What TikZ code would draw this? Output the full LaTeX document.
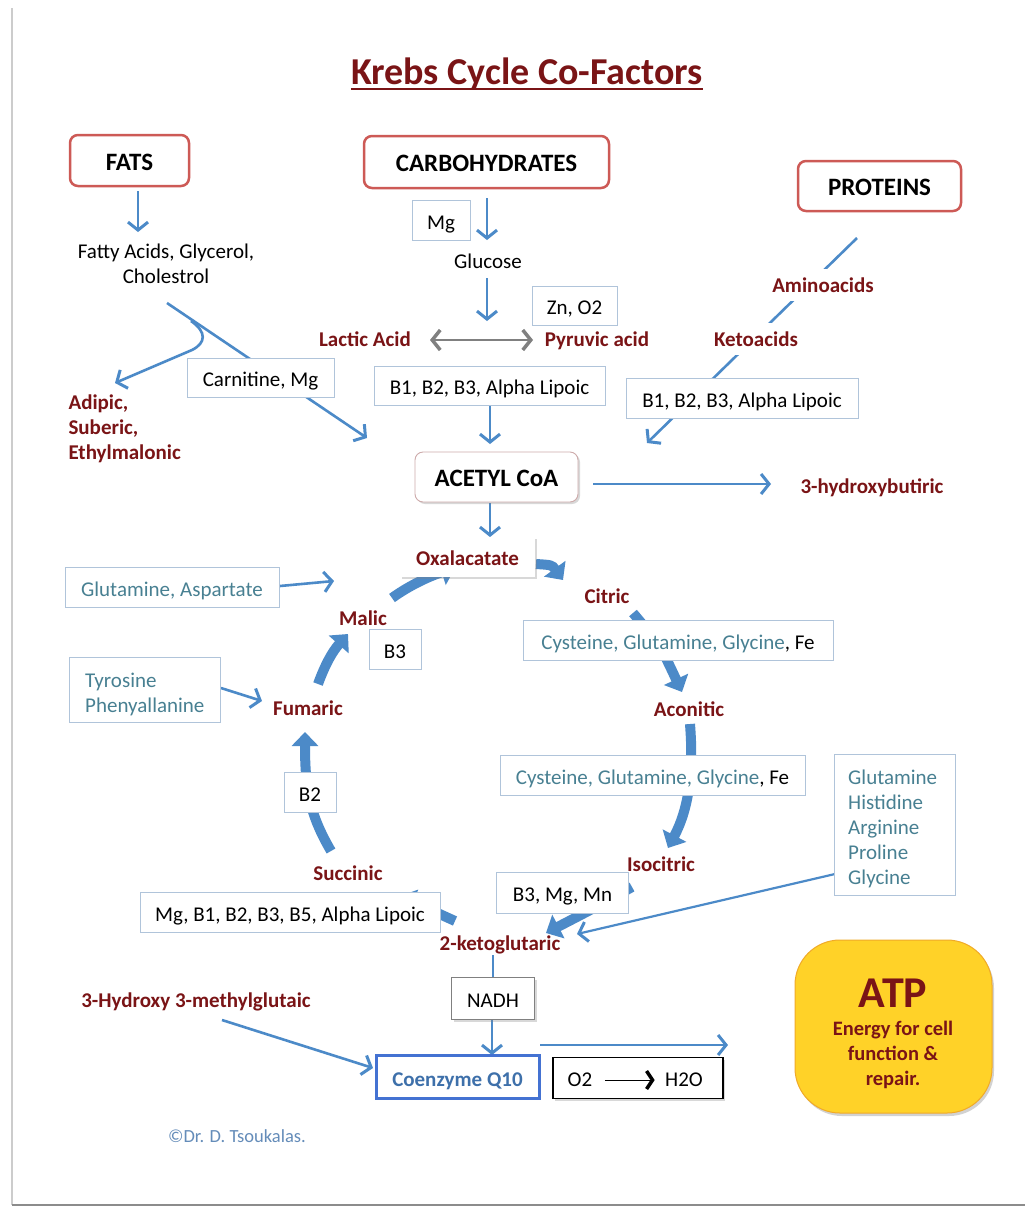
\documentclass[tikz,border=0pt]{standalone}
\usepackage{fontspec}
\setmainfont{Carlito}
\usetikzlibrary{arrows.meta,shadows}
\pgfdeclarelayer{bg}
\pgfsetlayers{bg,main}
\definecolor{dred}{RGB}{122,20,22}
\definecolor{hdr}{RGB}{205,90,86}
\definecolor{ablue}{RGB}{76,138,200}
\definecolor{tealtx}{RGB}{72,128,146}
\definecolor{bbord}{RGB}{176,196,218}
\definecolor{atpy}{RGB}{255,210,40}
\definecolor{atpb}{RGB}{240,170,40}
\definecolor{cqblue}{RGB}{68,114,210}
\definecolor{cqtxt}{RGB}{62,112,170}
\definecolor{gline}{RGB}{128,128,128}
\definecolor{copyc}{RGB}{100,140,185}
\definecolor{acbord}{RGB}{205,170,170}
\tikzset{
  body/.style={font=\fontsize{21}{25}\selectfont},
  lbl/.style={font=\fontsize{21}{25}\selectfont\bfseries, text=dred},
  hdrbox/.style={draw=hdr, line width=2.5pt, rounded corners=8pt, fill=white, inner sep=0pt, font=\fontsize{25}{28}\selectfont\bfseries, text height=19pt, text depth=0pt},
  cbox/.style={draw=bbord, line width=0.9pt, fill=white, inner sep=0pt, font=\fontsize{21}{25}\selectfont, text height=18pt, text depth=0pt},
  plainbox/.style={draw=bbord, line width=0.9pt, fill=white, inner sep=0pt},
  shd/.style={drop shadow={opacity=0.3, shadow xshift=2pt, shadow yshift=-2pt}},
  arr/.style={draw=ablue, line width=2.6pt, -{Straight Barb[length=8pt,width=20pt,line width=3pt]}},
  thinarr/.style={draw=ablue, line width=2.2pt, -{Straight Barb[length=8pt,width=20pt,line width=3pt]}},
  bigarr/.style={draw=ablue, line width=10pt, -{Triangle[length=14pt,width=26pt]}},
}
\begin{document}
\begin{tikzpicture}[x=1pt,y=-1pt]
\useasboundingbox (0,0) rectangle (1025,1208);
% ---------- nodes ----------
\node[font=\fontsize{38}{42}\selectfont\bfseries, text=dred, anchor=base, inner sep=0pt] (title) at (527,84) {Krebs Cycle Co-Factors};
\coordinate (ul) at (0,89);
\draw[dred, line width=2pt] (title.west |- ul) -- (title.east |- ul);

\node[hdrbox, minimum width=119, minimum height=51] (fats) at (129.5,160.5) {FATS};
\node[hdrbox, minimum width=245, minimum height=52] (carb) at (486.5,162) {CARBOHYDRATES};
\node[hdrbox, minimum width=163, minimum height=50] (prot) at (879.5,186) {PROTEINS};

\node[body, align=center] (fatty) at (166,264) {Fatty Acids, Glycerol,\\Cholestrol};
\node[cbox, minimum width=58, minimum height=40] (mg) at (441,220) {Mg};
\node[body] (glucose) at (488,261) {Glucose};
\node[cbox, minimum width=85, minimum height=39] (zno) at (574.5,305.5) {Zn, O2};
\node[lbl] (lactic) at (365,339) {Lactic Acid};
\node[lbl] (pyruvic) at (597,341) {Pyruvic acid};
\node[cbox, minimum width=147, minimum height=39] (carn) at (260.5,377.5) {Carnitine, Mg};
\node[cbox, minimum width=231, minimum height=39] (bleft) at (489.5,385.5) {B1, B2, B3, Alpha Lipoic};
\node[lbl, align=left, anchor=west] (adipic) at (65,429) {Adipic,\\Suberic,\\Ethylmalonic};
\node[lbl, fill=white, inner ysep=9pt, inner xsep=3pt] (amino) at (823,285) {Aminoacids};
\node[lbl, fill=white, inner ysep=9pt, inner xsep=3pt] (keto) at (756,339) {Ketoacids};
\node[cbox, minimum width=232, minimum height=40] (bright) at (742,398) {B1, B2, B3, Alpha Lipoic};

\node[draw=acbord, line width=0.9pt, rounded corners=8pt, fill=white, minimum width=163, minimum height=50, inner sep=0pt, font=\fontsize{25}{28}\selectfont\bfseries, text height=19pt, text depth=0pt, shd] (acetyl) at (496.5,477) {ACETYL CoA};
\node[lbl] (hydroxy) at (872,488) {3-hydroxybutiric};
\node[lbl, fill=white, minimum width=135, minimum height=40, inner sep=0pt, text height=17pt, text depth=0pt, shd] (oxal) at (467.5,557) {Oxalacatate};

\node[lbl] (citric) at (607,596) {Citric};
\node[lbl] (aconitic) at (689,709) {Aconitic};
\node[lbl] (isocitric) at (661,864) {Isocitric};
\node[lbl] (ketog) at (500,945) {2-ketoglutaric};
\node[lbl] (succinic) at (348,873) {Succinic};
\node[lbl] (fumaric) at (308,708) {Fumaric};
\node[lbl] (malic) at (363,618) {Malic};

\node[cbox, text=tealtx, minimum width=214, minimum height=40] (glas) at (172,587) {Glutamine, Aspartate};
\node[plainbox, minimum width=151, minimum height=65] (tyro) at (144.5,689.5) {};
\node[body, text=tealtx, align=left, anchor=west, inner sep=0pt] (tyrotx) at (85,694) {Tyrosine\\Phenyallanine};
\node[cbox, minimum width=310, minimum height=40] (cys1) at (678,640) {\textcolor{tealtx}{Cysteine, Glutamine, Glycine}, Fe};
\node[cbox, minimum width=305, minimum height=40] (cys2) at (652.5,775) {\textcolor{tealtx}{Cysteine, Glutamine, Glycine}, Fe};
\node[plainbox, minimum width=121, minimum height=141] (glist) at (894.5,824.5) {};
\node[body, text=tealtx, align=left, anchor=west, inner sep=0pt] (glisttx) at (848,828.5) {Glutamine\\Histidine\\Arginine\\Proline\\Glycine};
\node[cbox, minimum width=52, minimum height=40] (b3) at (395,649) {B3};
\node[cbox, minimum width=52, minimum height=40] (b2) at (310,792) {B2};
\node[cbox, minimum width=132, minimum height=41] (bmm) at (562.5,892.5) {B3, Mg, Mn};
\node[cbox, minimum width=300, minimum height=40] (mgb) at (290,912) {Mg, B1, B2, B3, B5, Alpha Lipoic};

\node[lbl] (hmg) at (196,1002) {3-Hydroxy 3-methylglutaic};
\node[cbox, draw=gline, line width=1pt, minimum width=83, minimum height=42, shd] (nadh) at (493,998.5) {NADH};
\node[cbox, draw=cqblue, line width=3pt, minimum width=163, minimum height=43, font=\fontsize{21}{25}\selectfont\bfseries, text=cqtxt] (coq) at (457.5,1077) {Coenzyme Q10};
\node[draw=black, line width=1.5pt, fill=white, minimum width=170, minimum height=41, inner sep=0pt, shd] (o2box) at (638,1078) {};
\node[body] (o2) at (580,1080) {O2};
\node[body] (h2o) at (684,1080) {H2O};
\draw[line width=1pt, -{Straight Barb[length=6pt,width=18pt,line width=3.5pt]}] ([xshift=9pt]o2.east) -- ([xshift=-7pt]h2o.west);

\node[fill=atpy, draw=atpb, line width=1pt, rounded corners=45pt, minimum width=197, minimum height=173, inner sep=0pt, drop shadow={opacity=0.35, shadow xshift=2pt, shadow yshift=-3pt}] (atp) at (893.5,1026.5) {};
\node[font=\fontsize{44}{48}\selectfont\bfseries, text=dred] (atpt) at (893,993) {ATP};
\node[font=\fontsize{20.5}{25}\selectfont\bfseries, text=dred, align=center] (atps) at (893,1055) {Energy for cell\\function \&\\repair.};

\node[font=\fontsize{18.5}{22}\selectfont, text=copyc] (copy) at (237,1136) {©Dr. D. Tsoukalas.};

% ---------- connector end points ----------
\coordinate (fa1) at (138,191);   \coordinate (fa2) at (138,232);
\coordinate (ca1) at (487,198);   \coordinate (ca2) at (487,240);
\coordinate (gl1) at (487,278);   \coordinate (gl2) at (487,321);
\coordinate (la1) at (430,340);   \coordinate (la2) at (533,340);
\coordinate (fm1) at (167,303);   \coordinate (fm2) at (367,438);
\coordinate (hk1) at (191,321);   \coordinate (hk2) at (115,383);
\coordinate (bl1) at (490,406);   \coordinate (bl2) at (490,444);
\coordinate (pr1) at (857,238);   \coordinate (pr2) at (647,443);
\coordinate (ac1) at (593,484);   \coordinate (ac2) at (771,484);
\coordinate (ao1) at (490,503);   \coordinate (ao2) at (490,537);
\coordinate (ga1) at (280,586);   \coordinate (ga2) at (334,581);
\coordinate (ty1) at (221,688);   \coordinate (ty2) at (262,701);
\coordinate (c1a) at (536,564);   \coordinate (c1b) at (563,580);
\coordinate (c2a) at (633,613);   \coordinate (c2b) at (682,692);
\coordinate (c3a) at (690,724);   \coordinate (c3b) at (668,848);
\coordinate (c4a) at (632,887);   \coordinate (c4b) at (546,933);
\coordinate (c5a) at (455,921);   \coordinate (c5b) at (400,896);
\coordinate (c6a) at (331,851);   \coordinate (c6b) at (305,732);
\coordinate (c7a) at (318,684);   \coordinate (c7b) at (348,634);
\coordinate (c8a) at (392,598);   \coordinate (c8b) at (455,568);
\coordinate (gk1) at (835,874);   \coordinate (gk2) at (577,934);
\coordinate (kn1) at (493,955);
\coordinate (nq1) at (492,1020);  \coordinate (nq2) at (492,1055);
\coordinate (qr1) at (540,1045);  \coordinate (qr2) at (728,1045);
\coordinate (hm1) at (222,1020);  \coordinate (hm2) at (373,1068);

% ---------- connectors (behind boxes) ----------
\begin{pgfonlayer}{bg}
\fill[white] (0,0) rectangle (1025,1208);
\draw[black!20, line width=2.5pt] (12,8) -- (12,1205);
\draw[black!45, line width=2pt] (12,1205) -- (1025,1205);

\draw[arr] (fa1) -- (fa2);
\draw[arr] (ca1) -- (ca2);
\draw[arr] (gl1) -- (gl2);
\draw[gline, line width=1.3pt, {Straight Barb[length=8pt,width=20pt,line width=3.5pt]}-{Straight Barb[length=8pt,width=20pt,line width=3.5pt]}] (la1) -- (la2);
\draw[arr] (fm1) -- (fm2);
\draw[arr] (hk1) .. controls (207,332) and (206,343) .. (192,350) -- (hk2);
\draw[arr] (bl1) -- (bl2);
\draw[arr] (pr1) -- (pr2);
\draw[arr] (ac1) -- (ac2);
\draw[arr] (ao1) -- (ao2);
\draw[arr] (ga1) -- (ga2);
\draw[arr] (ty1) -- (ty2);

\draw[bigarr] (c1a) .. controls (552,565) .. (c1b);
\draw[bigarr] (c2a) .. controls (660,645) .. (c2b);
\draw[bigarr] (c3a) .. controls (694,775) and (688,810) .. (c3b);
\draw[bigarr] (c4a) .. controls (600,905) .. (c4b);
\draw[bigarr] (c5a) -- (c5b);
\draw[bigarr] (c6a) .. controls (310,815) and (305,790) .. (c6b);
\draw[bigarr] (c7a) .. controls (325,665) and (332,652) .. (c7b);
\draw[bigarr] (c8a) .. controls (410,585) and (430,576) .. (c8b);

\draw[thinarr] (gk1) -- (gk2);
\draw[ablue, line width=2.6pt] (kn1) -- (nadh.north);
\draw[arr] (nq1) -- (nq2);
\draw[arr] (qr1) -- (qr2);
\draw[arr] (hm1) -- (hm2);
\end{pgfonlayer}
\end{tikzpicture}
\end{document}
